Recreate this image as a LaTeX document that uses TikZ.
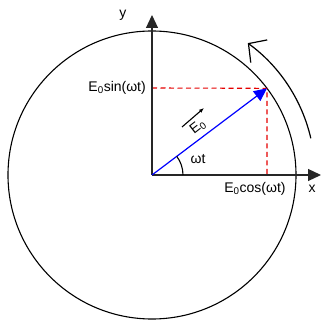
\documentclass[tikz,border=0pt]{standalone}
\usepackage{fontspec}
\setmainfont{Liberation Sans}
\usepackage{tikz}
\usetikzlibrary{arrows.meta}
\tikzset{
  ph axis/.style={
    -{Triangle[length=13pt,width=12pt]},
    draw=black!85,
    line width=1.2pt
  },
  ph vector/.style={
    -{Triangle[length=13pt,width=12pt]},
    draw=blue,
    line width=1.2pt
  },
  ph proj/.style={
    draw=red!90!black,
    line width=1.1pt,
    dash pattern=on 5pt off 3.5pt
  },
  ph label/.style={
    font=\fontsize{14}{16}\selectfont,
    inner sep=0pt
  }
}

\begin{document}
\begin{tikzpicture}[x=1pt, y=1pt]
        \useasboundingbox (-152,-145) rectangle (169,175);
        \coordinate (O) at (0,0);
        \coordinate (xend) at (169,0);
        \coordinate (yend) at (0,160);
        \coordinate (P) at (37:144);
        \coordinate (Py) at (0,87);
        \coordinate (Px) at (115,0);
        \coordinate (rotstart) at (13:163);
        \coordinate (arrowstart) at (30,48);
        \coordinate (arrowend) at (52,67);

        \draw[black, line width=1.1pt] (O) circle[radius=144];
        \draw[ph proj] (Py) -- (P) -- (Px);
        \draw[ph axis] (O) -- (xend);
        \draw[ph axis] (O) -- (yend);
        \draw[ph vector] (O) -- (P);
        \draw[black, line width=1.1pt] (31,0) arc[start angle=0, end angle=37, radius=31];
        \draw[black, line width=1.2pt, -{Straight Barb[length=13pt,width=28pt]}] (rotstart) arc[start angle=13, end angle=54, radius=163];
        \draw[black, line width=1.1pt, -{Latex[length=5pt,width=4pt]}] (arrowstart) -- (arrowend);

        \node[ph label] (ylab) at (-29,160) {y};
        \node[ph label] (xlab) at (160,-14) {x};
        \node[ph label, anchor=east] (sinlab) at (-6,87) {E\textsubscript{0}sin(ωt)};
        \node[ph label] (coslab) at (103,-14) {E\textsubscript{0}cos(ωt)};
        \node[ph label] (wtlab) at (46,16) {ωt};
        \node[ph label, rotate=38] (elab) at (46,48) {E\textsubscript{0}};
      \end{tikzpicture}
\end{document}
